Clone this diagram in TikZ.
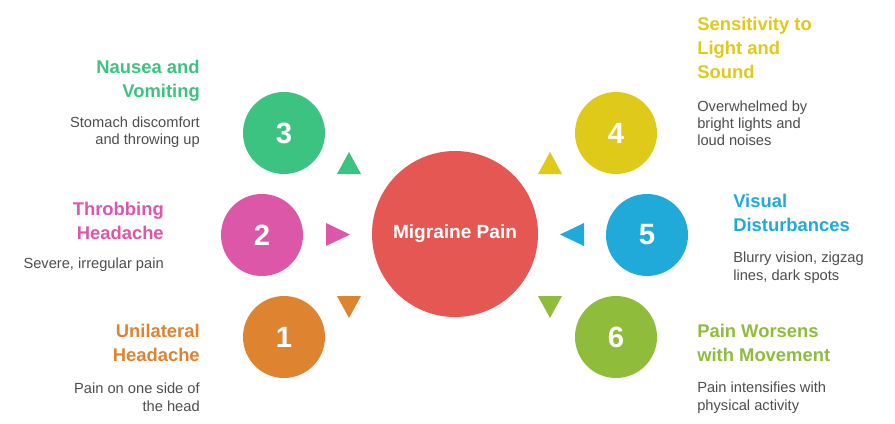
\documentclass[tikz,border=0pt]{standalone}
\usepackage{fontspec}
\setmainfont{Liberation Sans}
\definecolor{cgreen}{HTML}{3CC382}
\definecolor{cpink}{HTML}{DD57A8}
\definecolor{corange}{HTML}{DE8431}
\definecolor{cyellow}{HTML}{DFCA19}
\definecolor{cblue}{HTML}{20AAD9}
\definecolor{colive}{HTML}{8FBC3A}
\definecolor{cred}{HTML}{E45753}
\definecolor{cdesc}{HTML}{4D4D4D}
\begin{document}
\begin{tikzpicture}[x=0.75pt,y=-0.75pt,
  numcircle/.style={circle,inner sep=0pt,minimum size=61.5pt,text=white,font=\fontsize{22}{26}\selectfont\bfseries},
  title/.style={inner sep=0pt,font=\fontsize{13.8}{18}\selectfont\bfseries},
  titleL/.style={title,anchor=base east,align=right},
  titleR/.style={title,anchor=base west,align=left},
  desc/.style={inner sep=0pt,text=cdesc,font=\fontsize{11}{12.9}\selectfont},
  descL/.style={desc,anchor=base east,align=right},
  descR/.style={desc,anchor=base west,align=left}]
\useasboundingbox (0,0) rectangle (895,424);
% center
\node[circle,fill=cred,inner sep=0pt,minimum size=124.5pt,text=white,font=\fontsize{14.3}{17}\selectfont\bfseries] (c) at (455,234) {Migraine Pain};
% number circles
\node[numcircle,fill=cgreen] (n3) at (284,133) {3};
\node[numcircle,fill=cpink] (n2) at (262,235) {2};
\node[numcircle,fill=corange] (n1) at (284,337) {1};
\node[numcircle,fill=cyellow] (n4) at (616,133) {4};
\node[numcircle,fill=cblue] (n5) at (647,235) {5};
\node[numcircle,fill=colive] (n6) at (616,337) {6};
% triangles
\fill[cgreen] (337,174) -- (361,174) -- (349,152) -- cycle;
\fill[cpink] (326,223) -- (326,246) -- (350,234.5) -- cycle;
\fill[corange] (337,296) -- (361,296) -- (349,318) -- cycle;
\fill[cyellow] (538,174) -- (562,174) -- (550,152) -- cycle;
\fill[cblue] (584,223) -- (584,246) -- (560,234.5) -- cycle;
\fill[colive] (538,296) -- (562,296) -- (550,318) -- cycle;
% left texts (base = last line)
\node[titleL,text=cgreen] (t3) at (200,98) {Nausea and\\Vomiting};
\node[descL] (d3) at (200,145) {Stomach discomfort\\and throwing up};
\node[titleL,text=cpink] (t2) at (164,239) {Throbbing\\Headache};
\node[descL] (d2) at (164,268) {Severe, irregular pain};
\node[titleL,text=corange] (t1) at (200,361) {Unilateral\\Headache};
\node[descL] (d1) at (200,411) {Pain on one side of\\the head};
% right texts
\node[titleR,text=cyellow] (t4) at (697,79) {Sensitivity to\\Light and\\Sound};
\node[descR] (d4) at (697,146) {Overwhelmed by\\bright lights and\\loud noises};
\node[titleR,text=cblue] (t5) at (733,231) {Visual\\Disturbances};
\node[descR] (d5) at (733,280) {Blurry vision, zigzag\\lines, dark spots};
\node[titleR,text=colive] (t6) at (697,361) {Pain Worsens\\with Movement};
\node[descR] (d6) at (697,410) {Pain intensifies with\\physical activity};
\end{tikzpicture}
\end{document}
